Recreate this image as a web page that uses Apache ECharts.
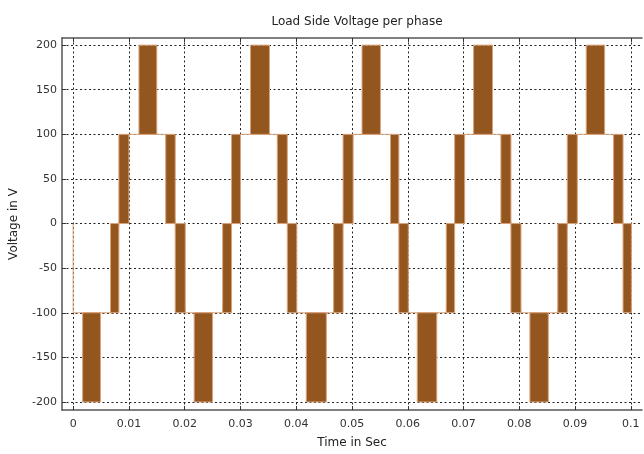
<!DOCTYPE html>
<html>
<head>
<meta charset="utf-8">
<title>Load Side Voltage per phase</title>
<script src="https://cdn.jsdelivr.net/npm/echarts@6/dist/echarts.min.js"></script>
<style>
  html, body { margin: 0; padding: 0; background: #fff; }
  #chart { width: 644px; height: 454px; }
</style>
</head>
<body>
<div id="chart"></div>
<script>
// tick labels
const xTicks = [0, 0.01, 0.02, 0.03, 0.04, 0.05, 0.06, 0.07, 0.08, 0.09, 0.1]
const yTicks = [-200, -150, -100, -50, 0, 50, 100, 150, 200]

// switching blocks (time in s, voltage in V)
const blockStart = [
  0.0017, 0.0067, 0.0082, 0.0118, 0.0166, 0.0183,
  0.0217, 0.0268, 0.0284, 0.0318, 0.0366, 0.0384,
  0.0418, 0.0467, 0.0484, 0.0518, 0.0569, 0.0584,
  0.0617, 0.0669, 0.0684, 0.0718, 0.0767, 0.0785,
  0.0819, 0.0869, 0.0886, 0.0920, 0.0969, 0.0986
]
const blockEnd = [
  0.0049, 0.0082, 0.0100, 0.0150, 0.0183, 0.0201,
  0.0250, 0.0284, 0.0300, 0.0352, 0.0384, 0.0401,
  0.0454, 0.0484, 0.0502, 0.0551, 0.0584, 0.0601,
  0.0652, 0.0684, 0.0702, 0.0752, 0.0785, 0.0803,
  0.0852, 0.0886, 0.0904, 0.0953, 0.0986, 0.1001
]
const blockLow = [
  -200, -100, 0, 100, 0, -100,
  -200, -100, 0, 100, 0, -100,
  -200, -100, 0, 100, 0, -100,
  -200, -100, 0, 100, 0, -100,
  -200, -100, 0, 100, 0, -100
]
const blockHigh = [
  -100, 0, 100, 200, 100, 0,
  -100, 0, 100, 200, 100, 0,
  -100, 0, 100, 200, 100, 0,
  -100, 0, 100, 200, 100, 0,
  -100, 0, 100, 200, 100, 0
]
// start of the trace: 0 V at t = 0, then down to the -100 V level
const startTime = 0
const startLevels = [0, -100]

const blocks = blockStart.map((t, i) => [t, blockEnd[i], blockLow[i], blockHigh[i]])

// thin trace joining the blocks at the level they share
const trace = [[startTime, startLevels[0]], [startTime, startLevels[1]], [blockStart[0], startLevels[1]]]
for (let i = 0; i < blocks.length; i++) {
  const b = blocks[i]
  const n = blocks[i + 1]
  if (!n) {
    trace.push([b[1], b[2]])
    break
  }
  const level = b[3] === n[2] ? b[3] : b[2]
  trace.push([b[1], level], [n[0], level])
}

const font = 'DejaVu Sans'
const gridLine = {
  show: true,
  lineStyle: { color: '#222', width: 1, type: [2, 2.5] }
}
const frameLine = { show: true, onZero: false, lineStyle: { color: '#555', width: 1.5 } }
const tick = { inside: true, length: 4, lineStyle: { color: '#333', width: 1 } }

const myChart = echarts.init(document.getElementById('chart'))
myChart.setOption({
  animation: false,
  backgroundColor: '#fff',
  title: {
    text: 'Load Side Voltage per phase',
    left: 352,
    top: 11,
    textAlign: 'center',
    textStyle: { fontFamily: font, fontSize: 12, fontWeight: 'normal', color: '#222' }
  },
  grid: { left: 62, right: 2, top: 38, bottom: 41 },
  xAxis: [
    {
      type: 'value',
      min: -0.002,
      max: 0.102,
      name: 'Time in Sec',
      nameLocation: 'middle',
      nameGap: 27,
      nameTextStyle: { fontFamily: font, fontSize: 12, color: '#222' },
      axisLine: frameLine,
      axisTick: Object.assign({ customValues: xTicks }, tick),
      axisLabel: { customValues: xTicks, margin: 9, fontFamily: font, fontSize: 11, color: '#333' },
      splitLine: gridLine
    },
    {
      type: 'value',
      position: 'top',
      min: -0.002,
      max: 0.102,
      axisLine: frameLine,
      axisTick: Object.assign({ customValues: xTicks }, tick),
      axisLabel: { show: false },
      splitLine: { show: false }
    }
  ],
  yAxis: {
    type: 'value',
    min: -209,
    max: 208,
    name: 'Voltage in V',
    nameLocation: 'middle',
    nameGap: 42,
    nameTextStyle: { fontFamily: font, fontSize: 12, color: '#222' },
    axisLine: frameLine,
    axisTick: Object.assign({ customValues: yTicks }, tick),
    axisLabel: { customValues: yTicks, margin: 5, fontFamily: font, fontSize: 11, color: '#333' },
    splitLine: gridLine
  },
  series: [
    {
      name: 'trace',
      type: 'line',
      data: trace,
      symbol: 'none',
      silent: true,
      lineStyle: { color: '#d9a47c', width: 1 },
      z: 2
    },
    {
      name: 'phase voltage',
      type: 'custom',
      data: blocks,
      encode: { x: [0, 1], y: [2, 3] },
      z: 3,
      renderItem: function (params, api) {
        const p0 = api.coord([api.value(0), api.value(3)])
        const p1 = api.coord([api.value(1), api.value(2)])
        return {
          type: 'rect',
          shape: { x: p0[0], y: p0[1], width: p1[0] - p0[0], height: p1[1] - p0[1] },
          style: { fill: '#94561f', stroke: '#d9a47c', lineWidth: 1 }
        }
      }
    }
  ]
})
</script>
</body>
</html>
